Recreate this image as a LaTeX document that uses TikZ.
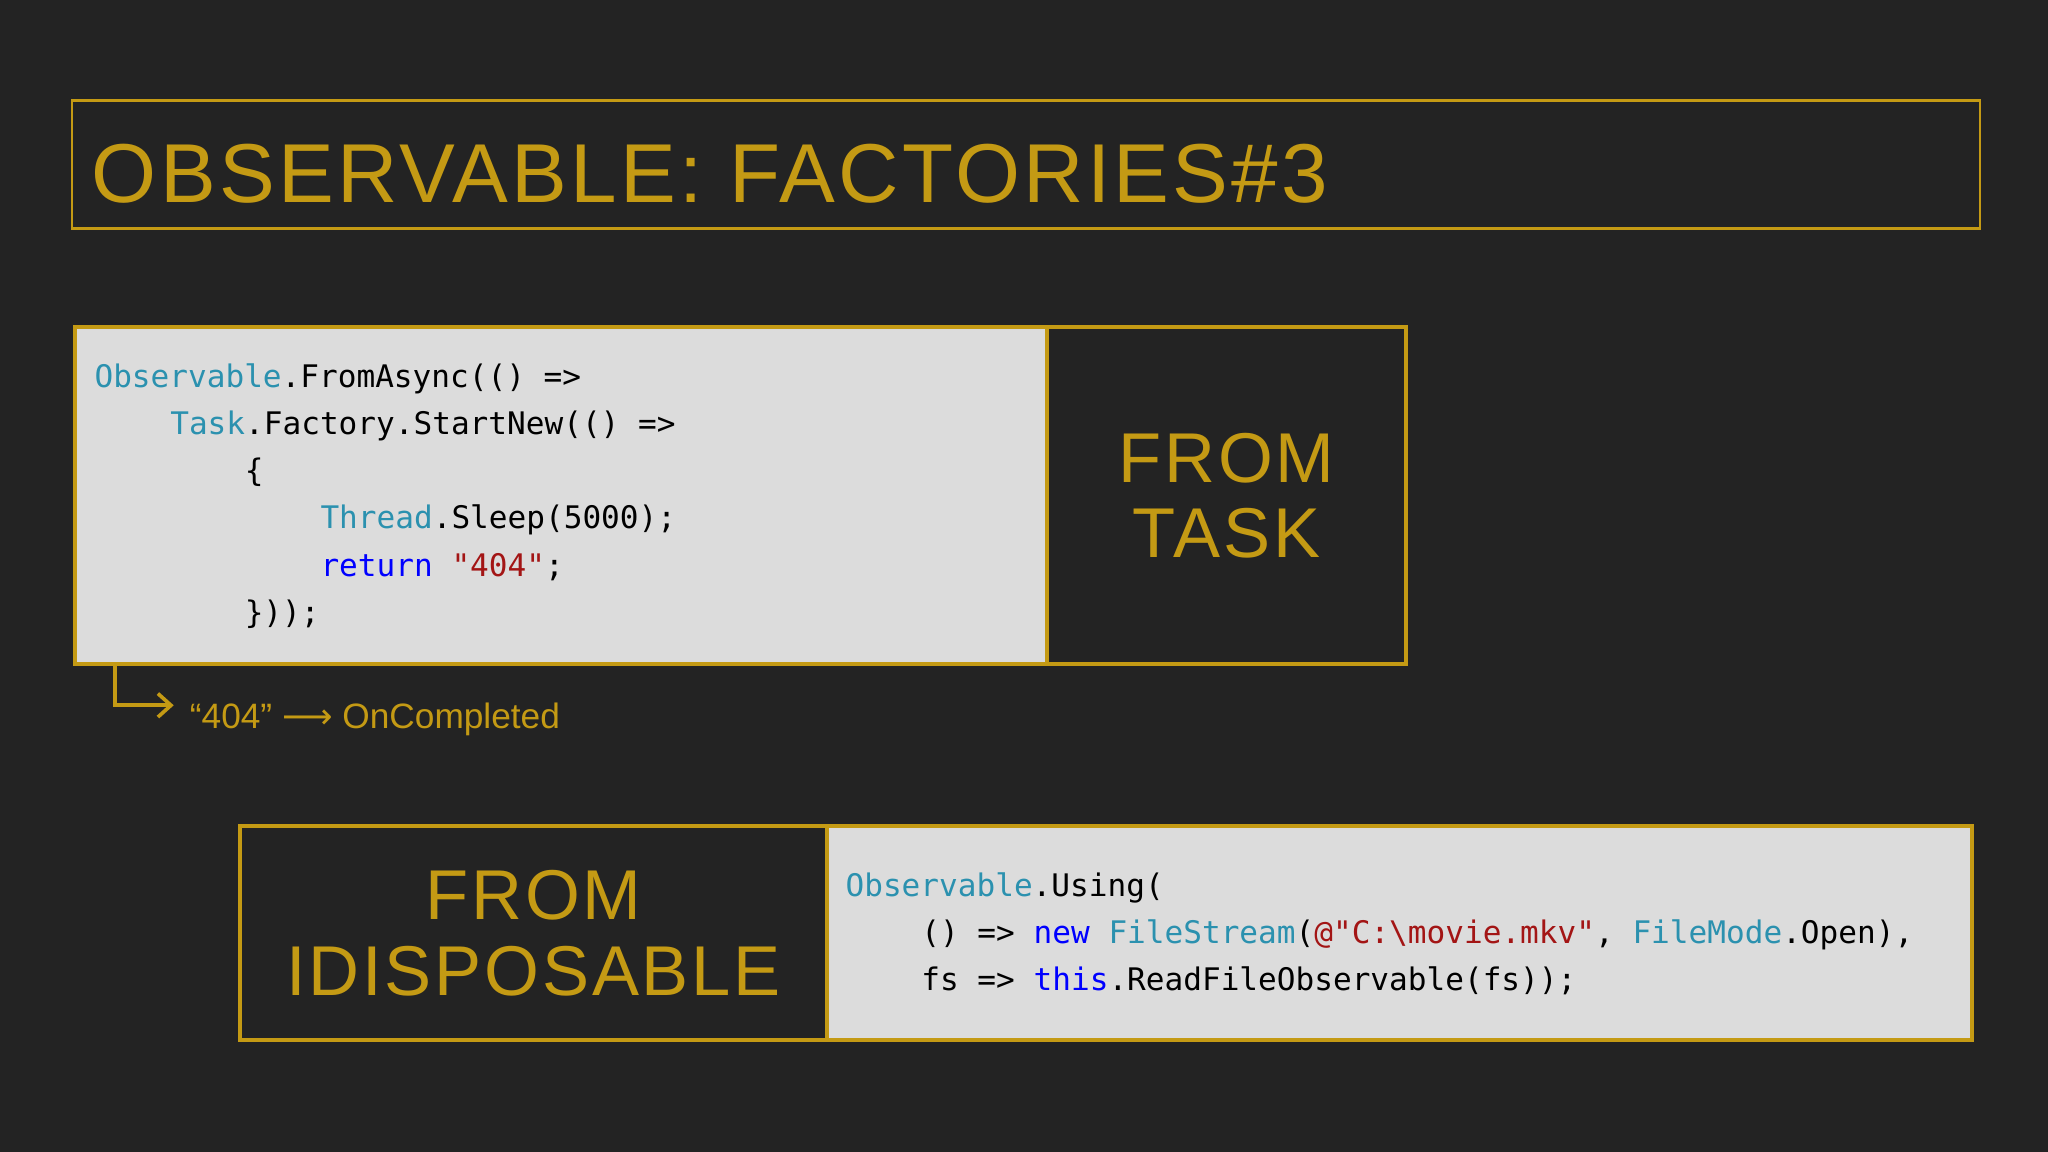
\documentclass[tikz,border=0pt]{standalone}
\usepackage{fontspec}
\usetikzlibrary{arrows.meta}
\setmainfont{Liberation Sans}
\setmonofont{DejaVu Sans Mono}
\newfontfamily\symfont{DejaVu Sans}
\newfontfamily\titlefont[LetterSpace=4]{Liberation Sans}
\definecolor{bg}{HTML}{232323}
\definecolor{gold}{HTML}{C49A14}
\definecolor{codebg}{HTML}{DCDCDC}
\definecolor{tl}{HTML}{2B91AF}
\definecolor{kw}{HTML}{0000FF}
\definecolor{st}{HTML}{A31515}
\tikzset{
  frame/.style={draw=gold, line width=1.5pt},
  code/.style={anchor=base west, inner sep=0pt, font=\ttfamily\fontsize{11.9}{14}\selectfont, text=black},
  big/.style={text=gold, font=\titlefont\fontsize{27}{31}\selectfont, align=center}
}
\begin{document}
\begin{tikzpicture}[x=0.5pt,y=-0.5pt]
\fill[bg] (0,0) rectangle (1568,882);
\useasboundingbox (0,0) rectangle (1568,882);
\node[frame, draw, minimum width=730.5pt, minimum height=49pt, line width=1pt, anchor=north west, inner sep=0pt] (tb) at (54,76) {};
\node[anchor=base west, inner sep=0pt, text=gold, font=\titlefont\fontsize{32}{36}\selectfont] (title) at (70,155) {OBSERVABLE: FACTORIES\#3};
% top boxes
\node[frame, fill=codebg, anchor=north west, minimum width=372pt, minimum height=129pt, inner sep=0pt] (c1) at (56,249) {};
\node[frame, fill=bg, anchor=north west, minimum width=137.5pt, minimum height=129pt, inner sep=0pt] (t1) at (800,249) {};
\node[big] at (t1.center) {FROM\\[-2pt]TASK};
\node[code] at (72,297) {\textcolor{tl}{Observable}.FromAsync(() =>};
\node[code] at (130,333) {\textcolor{tl}{Task}.Factory.StartNew(() =>};
\node[code] at (187,369) {\{};
\node[code] at (245,405) {\textcolor{tl}{Thread}.Sleep(5000);};
\node[code] at (245,441) {\textcolor{kw}{return} \textcolor{st}{"404"};};
\node[code] at (187,477) {\}));};
\coordinate (a0) at (88,509);
\node[anchor=base west, inner sep=0pt, text=gold, font=\fontsize{13.5}{16}\selectfont] (res) at (145,558) {“404” {\symfont ⟶} OnCompleted};
\draw[gold, line width=1.4pt, -{Straight Barb[length=5pt,width=9pt]}] (a0) |- (133,540);
% bottom boxes
\node[frame, fill=bg, anchor=north west, minimum width=225pt, minimum height=82pt, inner sep=0pt] (t2) at (182,631) {};
\node[frame, fill=codebg, anchor=north west, minimum width=438pt, minimum height=82pt, inner sep=0pt] (c2) at (632,631) {};
\node[big] at (t2.center) {FROM\\[-2pt]IDISPOSABLE};
\node[code] at (647,686) {\textcolor{tl}{Observable}.Using(};
\node[code] at (705,722) {() => \textcolor{kw}{new} \textcolor{tl}{FileStream}(\textcolor{st}{@"C:\textbackslash movie.mkv"}, \textcolor{tl}{FileMode}.Open),};
\node[code] at (705,758) {fs => \textcolor{kw}{this}.ReadFileObservable(fs));};
\end{tikzpicture}
\end{document}
